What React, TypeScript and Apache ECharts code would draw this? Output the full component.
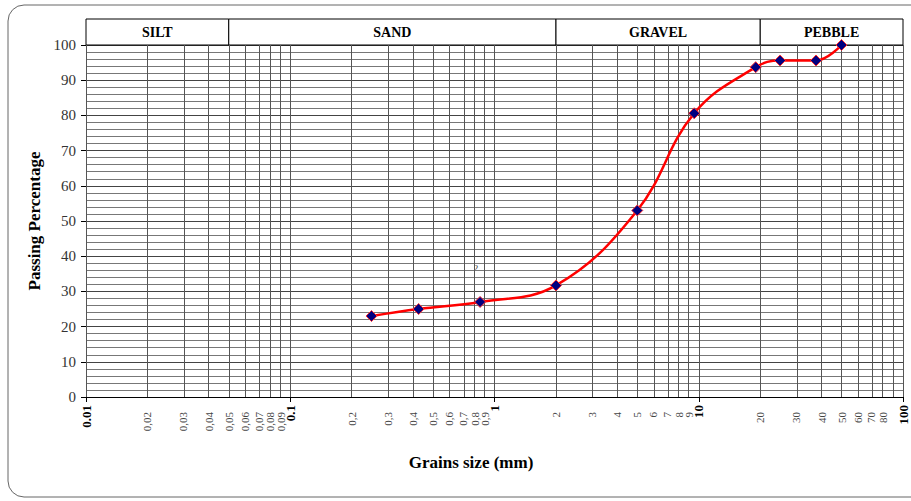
import React, { useEffect, useRef } from "react";
import * as echarts from "echarts";

// Sieve data (grain size in mm, passing %)
const sieveSizes = [0.25, 0.425, 0.85, 2, 5, 9.5, 19, 25, 37.5, 50];
const passing = [23, 25, 27, 31.7, 53, 80.6, 93.7, 95.6, 95.6, 100];

// Soil classes on the top band
const bandNames = ["SILT", "SAND", "GRAVEL", "PEBBLE"];
const bandStarts = [0.01, 0.05, 2, 20];
const bandEnds = [0.05, 2, 20, 100];

// Axis ticks
const decadeTicks = [0.01, 0.1, 1, 10, 100];
const decadeLabels = ["0.01", "0.1", "1", "10", "100"];
const minorTicks = [
  0.02, 0.03, 0.04, 0.05, 0.06, 0.07, 0.08, 0.09,
  0.2, 0.3, 0.4, 0.5, 0.6, 0.7, 0.8, 0.9,
  2, 3, 4, 5, 6, 7, 8, 9,
  20, 30, 40, 50, 60, 70, 80, 90,
];
const minorLabels = [
  "0,02", "0,03", "0,04", "0,05", "0,06", "0,07", "0,08", "0,09",
  "0,2", "0,3", "0,4", "0,5", "0,6", "0,7", "0,8", "0,9",
  "2", "3", "4", "5", "6", "7", "8", "9",
  "20", "30", "40", "50", "60", "70", "80", "",
];

const SERIF = '"Liberation Serif", "Times New Roman", serif';

function findLabel(values: number[], labels: string[], v: number): string {
  for (let i = 0; i < values.length; i++) {
    if (Math.abs(Math.log10(values[i]) - v) < 1e-6) return labels[i];
  }
  return "";
}

export default function App() {
  const ref = useRef<HTMLDivElement>(null);

  useEffect(() => {
    if (!ref.current) return;
    const chart = echarts.init(ref.current, undefined, { renderer: "svg" });

    const minorLabelLogs = minorTicks
      .map((t, i) => ({ v: Math.log10(t), l: minorLabels[i] }))
      .filter((d) => d.l !== "")
      .map((d) => d.v);
    const decadeLogs = decadeTicks.map((t) => Math.log10(t));
    const allGrid = [...decadeTicks, ...minorTicks];

    const option: any = {
      animation: false,
      backgroundColor: "#ffffff",
      grid: [
        { left: 86, right: 8, top: 45, bottom: 104 },
        { left: 86, right: 8, top: 19, height: 26 },
      ],
      xAxis: [
        {
          type: "value",
          gridIndex: 0,
          min: -2,
          max: 2,
          interval: 1,
          position: "bottom",
          axisLine: { show: true, onZero: false, lineStyle: { color: "#000", width: 1 } },
          axisTick: { show: false },
          splitLine: { show: false },
          axisLabel: {
            customValues: minorLabelLogs,
            rotate: 90,
            margin: 15,
            fontSize: 11,
            color: "#444",
            fontFamily: SERIF,
            formatter: (v: number) => findLabel(minorTicks, minorLabels, v),
          },
        },
        {
          type: "value",
          gridIndex: 0,
          min: -2,
          max: 2,
          interval: 1,
          position: "bottom",
          axisLine: { show: false, onZero: false },
          axisTick: {
            show: true,
            customValues: decadeLogs,
            length: 5,
            lineStyle: { color: "#000" },
          },
          splitLine: { show: false },
          axisLabel: {
            customValues: decadeLogs,
            rotate: 90,
            margin: 8,
            fontSize: 13,
            fontWeight: "bold",
            color: "#000",
            fontFamily: SERIF,
            formatter: (v: number) => findLabel(decadeTicks, decadeLabels, v),
          },
        },
        { type: "value", gridIndex: 1, min: -2, max: 2, show: false },
      ],
      yAxis: [
        {
          type: "value",
          gridIndex: 0,
          min: 0,
          max: 100,
          interval: 10,
          name: "Passing Percentage",
          nameLocation: "middle",
          nameGap: 38,
          nameTextStyle: {
            fontFamily: SERIF,
            fontSize: 17,
            fontWeight: "bold",
            color: "#000",
          },
          axisLine: { show: true, onZero: false, lineStyle: { color: "#000", width: 1 } },
          axisTick: { show: true, length: 5, lineStyle: { color: "#000" } },
          axisLabel: { fontSize: 15, color: "#333", fontFamily: SERIF, margin: 10 },
          splitLine: { show: true, lineStyle: { color: "#444", width: 1 } },
          minorTick: { show: false, splitNumber: 5 },
          minorSplitLine: { show: true, lineStyle: { color: "#777", width: 1 } },
        },
        { type: "value", gridIndex: 1, min: 0, max: 1, show: false },
      ],
      graphic: [
        {
          type: "rect",
          shape: { x: 8, y: 5, width: 940, height: 492, r: 16 },
          style: { fill: "none", stroke: "#666", lineWidth: 1 },
          silent: true,
          z: -1,
        },
        {
          type: "text",
          x: 471,
          y: 462,
          style: {
            text: "Grains size (mm)",
            font: `bold 17px ${SERIF}`,
            fill: "#000",
            align: "center",
            verticalAlign: "middle",
          },
        },
        {
          type: "text",
          x: 476,
          y: 268,
          style: {
            text: "2",
            font: `9px ${SERIF}`,
            fill: "#333",
            align: "center",
            verticalAlign: "middle",
          },
        },
      ],
      series: [
        {
          type: "line",
          xAxisIndex: 0,
          yAxisIndex: 0,
          data: [],
          z: 1,
          silent: true,
          markLine: {
            silent: true,
            symbol: "none",
            label: { show: false },
            lineStyle: { color: "#555", width: 1, type: "solid" },
            data: allGrid.map((v) => ({ xAxis: Math.log10(v) })),
          },
        },
        {
          type: "line",
          xAxisIndex: 0,
          yAxisIndex: 0,
          z: 5,
          smooth: 0.4,
          data: sieveSizes.map((s, i) => [Math.log10(s), passing[i]]),
          lineStyle: { color: "#ff0000", width: 2.5 },
          symbol: "diamond",
          symbolSize: 11,
          itemStyle: { color: "#000080", borderColor: "#ff3030", borderWidth: 1 },
        },
        {
          type: "custom",
          xAxisIndex: 2,
          yAxisIndex: 1,
          data: bandNames.map((n, i) => [Math.log10(bandStarts[i]), Math.log10(bandEnds[i]), 0.5]),
          encode: { x: [0, 1], y: 2 },
          renderItem: (params: any, api: any) => {
            const p0 = api.coord([api.value(0), 1]);
            const p1 = api.coord([api.value(1), 0]);
            return {
              type: "group",
              children: [
                {
                  type: "rect",
                  shape: { x: p0[0], y: p0[1], width: p1[0] - p0[0], height: p1[1] - p0[1] },
                  style: { fill: "#fff", stroke: "#000", lineWidth: 1 },
                },
                {
                  type: "text",
                  style: {
                    text: bandNames[params.dataIndex],
                    x: (p0[0] + p1[0]) / 2,
                    y: (p0[1] + p1[1]) / 2,
                    align: "center",
                    verticalAlign: "middle",
                    font: `bold 14px ${SERIF}`,
                    fill: "#000",
                  },
                },
              ],
            };
          },
        },
      ],
    };

    chart.setOption(option);
    return () => chart.dispose();
  }, []);

  return (
    <div
      ref={ref}
      style={{ position: "fixed", left: 0, top: 0, width: 911, height: 501 }}
    />
  );
}
